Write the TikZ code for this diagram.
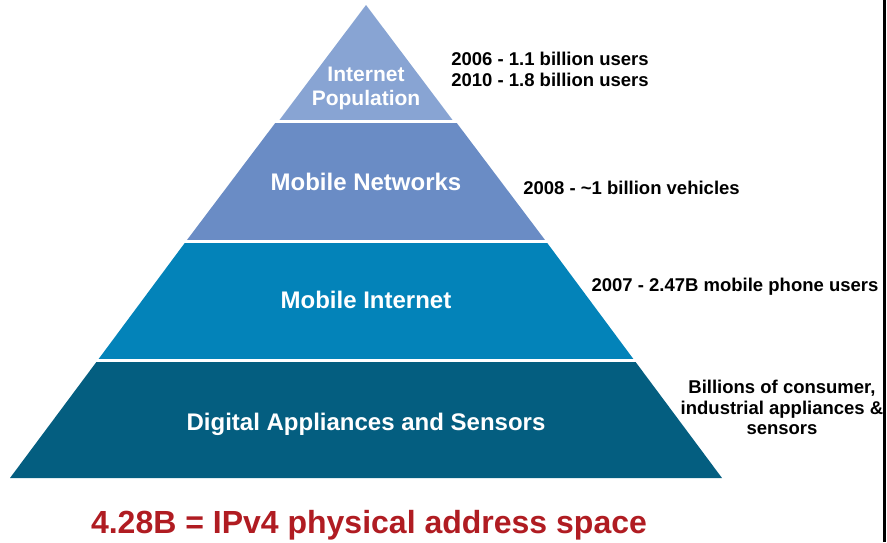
\documentclass[tikz,border=0pt]{standalone}
\usepackage{fontspec}
\setmainfont{Liberation Sans}
\usetikzlibrary{positioning}
\definecolor{tierone}{HTML}{88A4D3}
\definecolor{tiertwo}{HTML}{6A8CC5}
\definecolor{tierthree}{HTML}{0383B9}
\definecolor{tierfour}{HTML}{045E80}
\definecolor{ipred}{HTML}{B01C22}

\begin{document}
\begin{tikzpicture}[x=1pt,y=-1pt,inner sep=0pt]
  \tikzstyle{tier}=[text=white,font=\bfseries\fontsize{24}{28}\selectfont]
  \tikzstyle{note}=[text=black,align=center,font=\bfseries\fontsize{18.5}{20.5}\selectfont]
  \tikzstyle{gap}=[white,line width=3.3pt]

  \useasboundingbox (0,0) rectangle (887,542);

  % pyramid tiers
  \fill[tierone]   (366,5) -- (455.8,124.3) -- (276.2,124.3) -- cycle;
  \fill[tiertwo]   (276.2,121.7) -- (455.8,121.7) -- (546.3,241.7) -- (185.7,241.7) -- cycle;
  \fill[tierthree] (185.7,241.7) -- (546.3,241.7) -- (634.5,360.5) -- (97.5,360.5) -- cycle;
  \fill[tierfour]  (97.5,360.5) -- (634.5,360.5) -- (722,478) -- (10,478) -- cycle;

  \draw[gap] (260,121.7) -- (470,121.7);
  \draw[gap] (170,241.7) -- (560,241.7);
  \draw[gap] (80,360.5) -- (650,360.5);

  % tier labels
  \node[tier,align=center,font=\bfseries\fontsize{21}{24}\selectfont] (pop) at (366,88.4) {Internet\\Population};
  \node[tier,anchor=base] (net) at (366,190.7) {Mobile Networks};
  \node[tier,anchor=base] (inet) at (366,308.3) {Mobile Internet};
  \node[tier,anchor=base] (dig) at (366,430) {Digital Appliances and Sensors};

  % notes
  \node[note] (users) at (550,69.5) {2006 - 1.1 billion users\\2010 - 1.8 billion users};
  \node[note,anchor=base] (cars) at (631.5,194) {2008 - {\char`~}1 billion vehicles};
  \node[note,anchor=base] (phones) at (735,291) {2007 - 2.47B mobile phone users};
  \node[note] (devices) at (782,407.5) {Billions of consumer,\\industrial appliances \&\\sensors};

  \node[anchor=base,text=ipred,font=\bfseries\fontsize{32}{34}\selectfont] (space) at (369,533) {4.28B = IPv4 physical address space};

  \draw[black,line width=2.5pt] (884.5,0) -- (884.5,542);
\end{tikzpicture}
\end{document}
